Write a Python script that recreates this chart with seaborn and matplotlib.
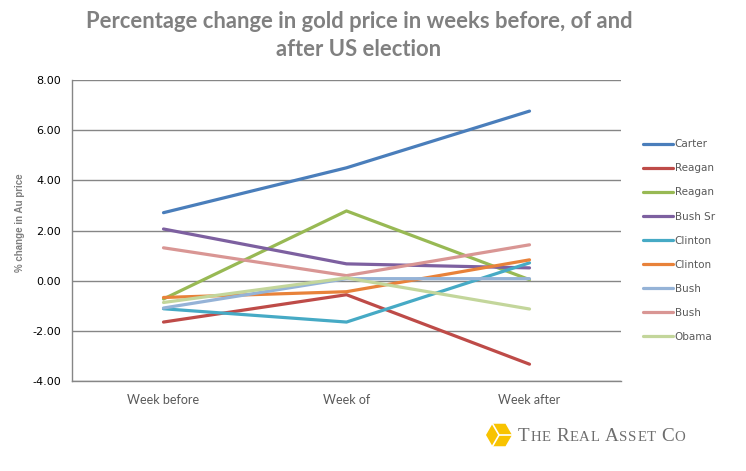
import matplotlib
matplotlib.use("Agg")
import matplotlib.pyplot as plt
import seaborn as sns
import pandas as pd
import math
from matplotlib.patches import Polygon
from matplotlib.lines import Line2D

categories = ["Week before", "Week of", "Week after"]
series_names = ["Carter", "Reagan", "Reagan", "Bush Sr", "Clinton", "Clinton", "Bush", "Bush", "Obama"]
carter = [2.71, 4.50, 6.76]
reagan_1 = [-1.65, -0.56, -3.33]
reagan_2 = [-0.73, 2.78, 0.04]
bush_sr = [2.06, 0.67, 0.51]
clinton_1 = [-1.12, -1.65, 0.71]
clinton_2 = [-0.67, -0.44, 0.83]
bush_1 = [-1.09, 0.08, 0.08]
bush_2 = [1.31, 0.20, 1.43]
obama = [-0.87, 0.11, -1.13]
colors = ["#4A7EBB", "#BE4B48", "#98B954", "#7D60A0", "#46AAC5",
          "#E8823A", "#95B3D7", "#D99694", "#C3D69B"]
yticks = [-4, -2, 0, 2, 4, 6, 8]

all_series = [carter, reagan_1, reagan_2, bush_sr, clinton_1, clinton_2, bush_1, bush_2, obama]
rows = []
for i, (name, vals) in enumerate(zip(series_names, all_series)):
    key = f"{i}_{name}"
    for c, v in zip(categories, vals):
        rows.append({"series": key, "week": c, "value": v})
df = pd.DataFrame(rows)
keys = [f"{i}_{n}" for i, n in enumerate(series_names)]

sns.set_theme(style="white")
W, H = 746, 471
fig = plt.figure(figsize=(W / 100, H / 100), dpi=100)
ax = fig.add_axes([72 / W, 1 - 381 / H, (621 - 72) / W, (381 - 80) / H])

sns.lineplot(data=df, x="week", y="value", hue="series", hue_order=keys,
             palette=dict(zip(keys, colors)), linewidth=2.3, ax=ax,
             legend=False, sort=False)

ax.set_xlim(-0.5, 2.5)
ax.set_ylim(-4, 8)
ax.set_yticks(yticks)
ax.set_yticklabels([f"{t:.2f}" for t in yticks], fontsize=8, color="#000000",
                   family="DejaVu Sans")
ax.set_xticks(range(3))
ax.set_xticklabels(categories, fontsize=9, color="#595959", family="Lato")
ax.tick_params(axis="x", length=0, pad=9)
ax.tick_params(axis="y", length=0, pad=8)
ax.yaxis.grid(True, color="#868686", linewidth=1)
ax.set_axisbelow(True)
for s in ["top", "right"]:
    ax.spines[s].set_visible(False)
for s in ["left", "bottom"]:
    ax.spines[s].set_color("#868686")
    ax.spines[s].set_linewidth(1)
ax.set_xlabel("")
ax.set_ylabel("")

fig.text(20 / W, 1 - 223 / H, "% change in Au price", rotation=90, ha="center",
         va="center", fontsize=7, color="#7F7F7F", fontweight="bold",
         family="Liberation Sans")

fig.text(359 / W, 1 - 21 / H, "Percentage change in gold price in weeks before, of and",
         ha="center", va="center", fontsize=15.8, fontweight="bold",
         color="#808080", family="Lato")
fig.text(359 / W, 1 - 49 / H, "after US election",
         ha="center", va="center", fontsize=15.8, fontweight="bold",
         color="#808080", family="Lato")

# legend
handles = [Line2D([0], [0], color=c, linewidth=2.3) for c in colors]
ax.legend(handles, series_names, loc="upper left",
          bbox_to_anchor=(634 / W, 1 - 130 / H), bbox_transform=fig.transFigure,
          frameon=False, handlelength=2.8, handletextpad=0.2,
          labelspacing=1.35, labelcolor="#595959", prop={"family": "DejaVu Sans", "size": 7.5})

# logo
lax = fig.add_axes([0, 0, 1, 1], facecolor="none")
lax.set_xlim(0, W)
lax.set_ylim(H, 0)
lax.axis("off")
cx, cy, r = 499, 435, 13
pts = [(cx + r * math.cos(math.radians(a)), cy + r * math.sin(math.radians(a)))
       for a in [0, 60, 120, 180, 240, 300]]
lax.add_patch(Polygon(pts, closed=True, facecolor="#F8C300", edgecolor="none"))
for vx, vy in [pts[4], pts[0], pts[2]]:
    lax.plot([cx, vx], [cy, vy], color="white", linewidth=1.2)

fig.canvas.draw()
renderer = fig.canvas.get_renderer()
x = 518
for wi, word in enumerate(["THE", "REAL", "ASSET", "CO"]):
    for li, ch in enumerate(word):
        size = 13.8 if li == 0 else 10.6
        t = lax.text(x, 441, ch, fontsize=size, color="#6E6E6E",
                     family="Liberation Serif", ha="left", va="baseline")
        bb = t.get_window_extent(renderer)
        x += bb.width + 0.6
    x += 5

fig.savefig("out.png", dpi=100)
